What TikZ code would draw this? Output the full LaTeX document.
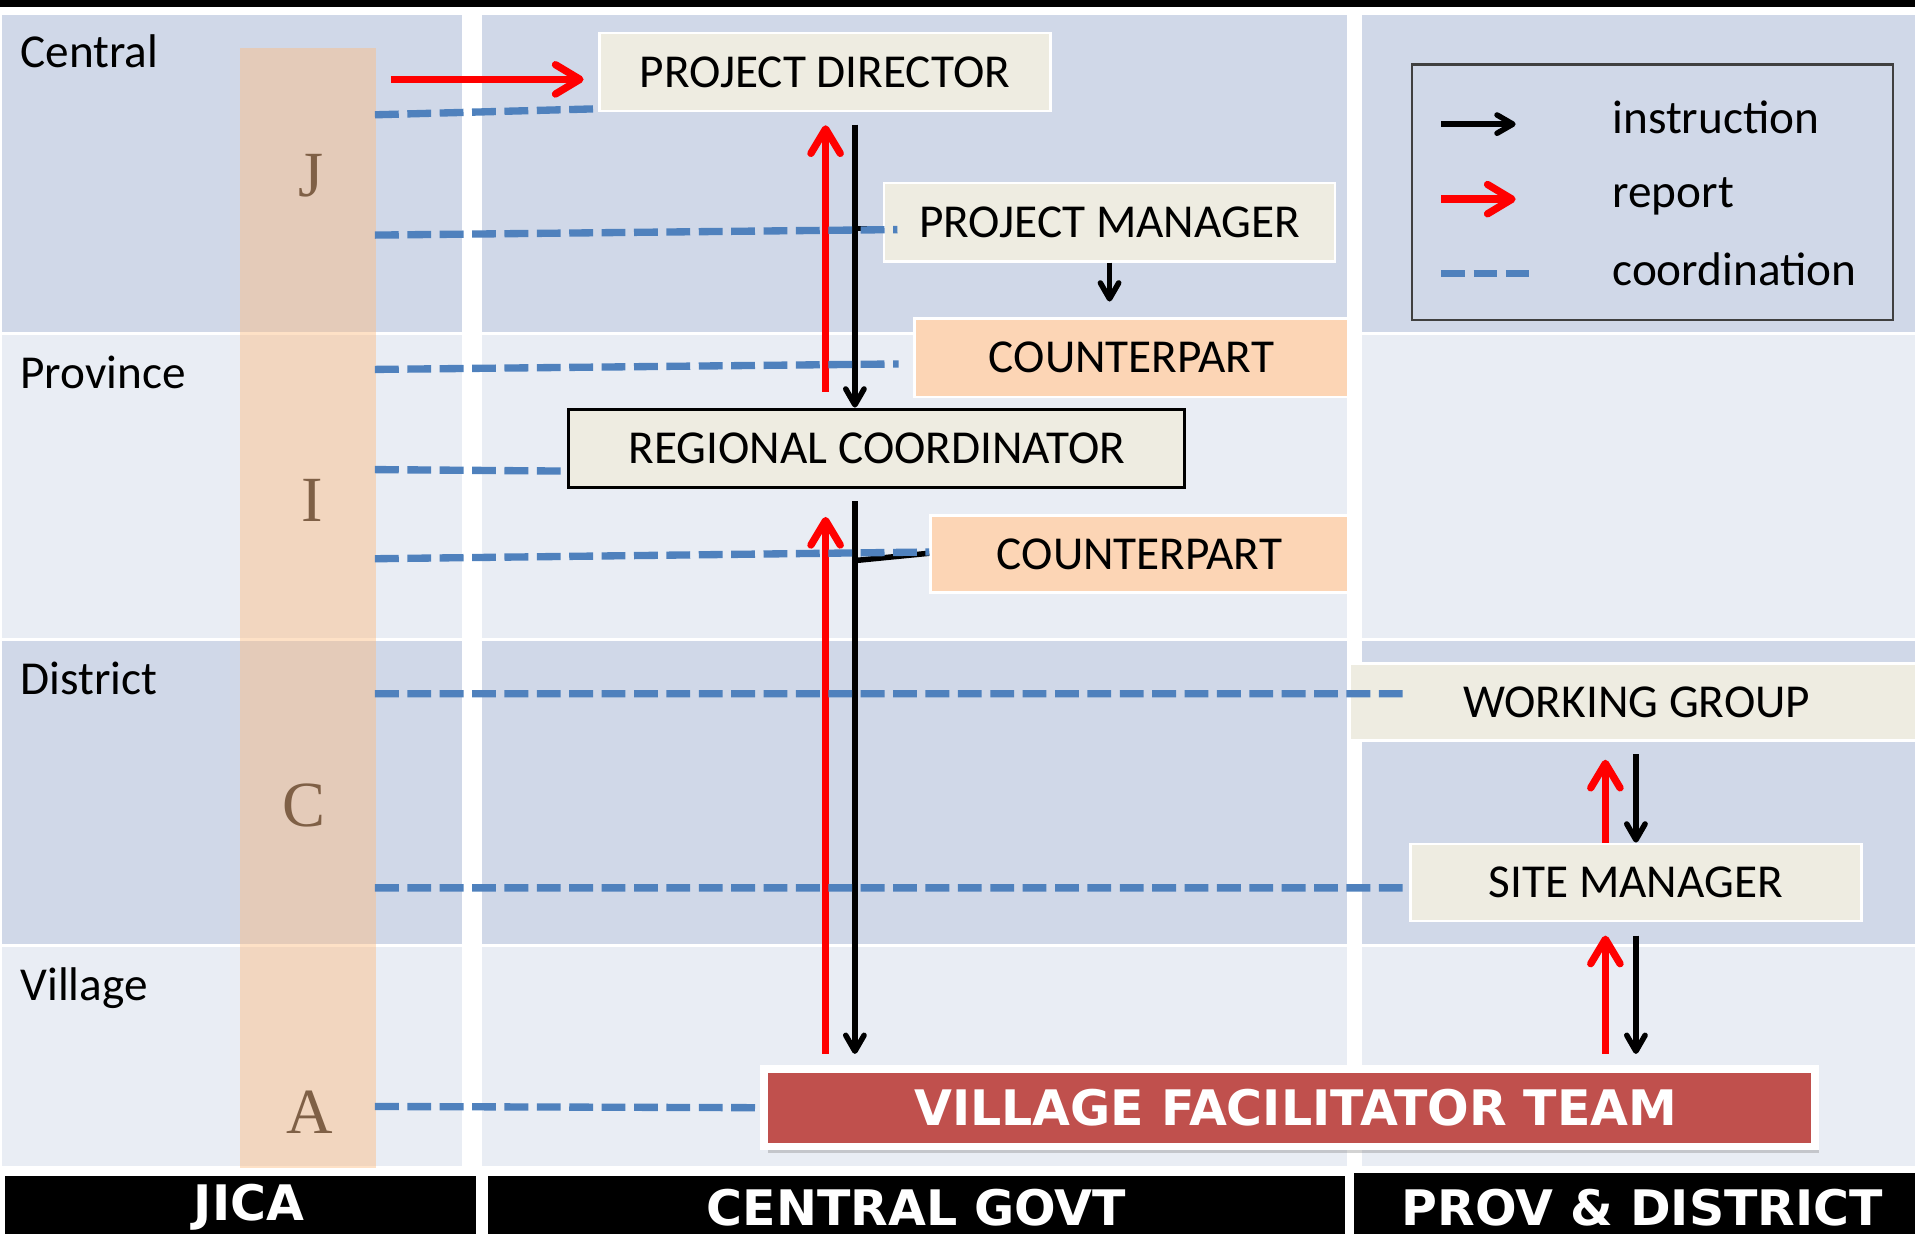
\documentclass[tikz,border=0pt]{standalone}
\usepackage{fontspec}
\setmainfont{Carlito}
\newfontfamily\heavyfont{DejaVu Sans}
\newfontfamily\letterfont{Liberation Serif}
\usepackage{tikz}
\usetikzlibrary{arrows.meta, shadows}

\definecolor{banddark}{RGB}{208,216,232}
\definecolor{bandlight}{RGB}{233,237,244}
\definecolor{boxbeige}{RGB}{238,236,225}
\definecolor{boxpeach}{RGB}{252,213,181}
\definecolor{coordblue}{RGB}{79,129,189}
\definecolor{teamred}{RGB}{192,80,77}
\definecolor{jicatint}{RGB}{253,188,128}
\definecolor{letterbrown}{RGB}{127,96,70}
\definecolor{legendgray}{RGB}{64,64,64}

\begin{document}
\begin{tikzpicture}
	[
	   x = 0.01cm, y = -0.01cm,
	   every node/.style = {font = \fontsize{11}{13}\selectfont},
	   rowlabel/.style = {anchor = base west, inner sep = 0pt},
	   letter/.style = {anchor = base, inner sep = 0pt, text = letterbrown, font = \letterfont\fontsize{15}{17}\selectfont},
	   officebox/.style = {fill = boxbeige, draw = white, line width = 0.6pt, minimum width = #1, minimum height = 0.64cm, inner sep = 0pt},
	   cpbox/.style = {officebox = #1, fill = boxpeach},
	   bottombar/.style = {fill = black, text = white, anchor = north west, inner sep = 0pt, minimum width = #1, minimum height = 0.52cm, font = \heavyfont\bfseries\fontsize{11.4}{13}\selectfont},
	   instrarrow/.style = {draw = black, line width = 0.045cm, -{Straight Barb[length = 0.13cm, width = 0.15cm, round]}},
	   reportarrow/.style = {draw = red, line width = 0.06cm, -{Straight Barb[length = 0.2cm, width = 0.24cm, round]}},
	   coordline/.style = {draw = coordblue, line width = 0.06cm, dash pattern = on 0.195cm off 0.07cm},
	   tickline/.style = {draw = black, line width = 0.045cm},
	]
	\useasboundingbox (0,0) rectangle (1568,1010);
	\clip (0,0) rectangle (1568,1010);

	\fill[black] (0,0) rectangle (1568,6);
	\foreach \top/\bot/\col in {12/272/banddark, 274.5/522.5/bandlight, 525/773/banddark, 775.5/955/bandlight}
		\foreach \lft/\rgt in {1.5/378, 395/1103, 1115/1568}
			\fill[\col] (\lft,\top) rectangle (\rgt,\bot);

	\node[fill = jicatint, fill opacity = 0.45, anchor = north west, inner sep = 0pt, minimum width = 1.11cm, minimum height = 9.16cm] (jcol) at (196,39) {};

	\node[rowlabel] (central) at (16,55) {Central};
	\node[rowlabel] (province) at (16,318) {Province};
	\node[rowlabel] (district) at (16,569) {District};
	\node[rowlabel] (village) at (16,819) {Village};

	\node[letter] (letj) at (255,161) {J};
	\node[letter] (leti) at (256,427) {I};
	\node[letter] (letc) at (249,677) {C};
	\node[letter] (leta) at (254,928) {A};

	\node[draw = legendgray, line width = 0.5pt, anchor = north west, inner sep = 0pt, minimum width = 3.94cm, minimum height = 2.09cm] (legend) at (1155,52) {};
	\draw[instrarrow] ([xshift = 0.25cm, yshift = -0.496cm]legend.north west) -- +(61,0);
	\draw[reportarrow] ([xshift = 0.25cm, yshift = -1.11cm]legend.north west) -- +(61,0);
	\draw[coordline] ([xshift = 0.25cm, yshift = -1.72cm]legend.north west) -- +(72,0);
	\node[rowlabel] (legins) at ([xshift = 1.645cm, yshift = -0.57cm]legend.north west) {instruction};
	\node[rowlabel] (legrep) at ([xshift = 1.645cm, yshift = -1.18cm]legend.north west) {report};
	\node[rowlabel] (legcoord) at ([xshift = 1.645cm, yshift = -1.82cm]legend.north west) {coordination};

	\node[officebox = 3.69cm] (PD) at (675.5,59) {PROJECT DIRECTOR};
	\node[officebox = 3.69cm] (PM) at (908.5,182) {PROJECT MANAGER};
	\node[cpbox = 3.55cm] (CP1) at (926.5,293) {COUNTERPART};
	\node[officebox = 5.04cm, draw = black, line width = 0.7pt] (RC) at (718,367) {REGIONAL COORDINATOR};
	\node[cpbox = 3.42cm, minimum height = 0.63cm] (CP2) at (933,453.5) {COUNTERPART};
	\node[officebox = 4.7cm, minimum height = 0.63cm] (WG) at (1340,575) {WORKING GROUP};
	\node[officebox = 3.69cm, minimum height = 0.63cm] (SM) at (1339.5,722.5) {SITE MANAGER};
	\node[fill = teamred, draw = white, line width = 0.065cm, minimum width = 8.6cm, minimum height = 0.635cm, inner sep = 0pt, text = white,
	      font = \heavyfont\bfseries\fontsize{11.4}{13}\selectfont,
	      drop shadow = {shadow xshift = 0.03cm, shadow yshift = -0.05cm, opacity = 0.35}] (team) at (1056,907) {\hspace*{0.1cm}VILLAGE FACILITATOR TEAM};

	\node[bottombar = 3.86cm] (jicabar) at (3,962) {\hspace*{0.14cm}JICA};
	\node[bottombar = 7.01cm] (govbar) at (399,962) {CENTRAL GOVT};
	\node[bottombar = 4.72cm, minimum height = 0.56cm] (provbar) at (1108,960) {PROV \& DISTRICT};

	\coordinate (upx) at (676,0);
	\coordinate (dnx) at (700,0);
	\coordinate (rupx) at (1314.5,0);
	\coordinate (rdnx) at (1339.5,0);
	\coordinate (pmtick) at ([yshift = -0.05cm]PM.west);
	\coordinate (cptick) at ([yshift = -0.055cm]CP2.west);

	\draw[tickline] (pmtick) -- (pmtick -| dnx);
	\draw[tickline] ([yshift = 0.005cm]CP2.west) -- (cptick -| dnx);

	\draw[reportarrow, shorten <= 0.13cm, shorten >= 0.105cm] (RC.north -| upx) -- (PD.south -| upx);
	\draw[instrarrow, shorten <= 0.1cm] (PD.south -| dnx) -- (RC.north -| dnx);
	\draw[instrarrow, shorten >= 0.13cm] (PM.south) -- (CP1.north -| PM.south);
	\draw[reportarrow, shorten <= 0.09cm, shorten >= 0.23cm] (team.north -| upx) -- (RC.south -| upx);
	\draw[instrarrow, shorten <= 0.1cm, shorten >= 0.09cm] (RC.south -| dnx) -- (team.north -| dnx);
	\draw[reportarrow, shorten >= 0.145cm] (SM.north -| rupx) -- (WG.south -| rupx);
	\draw[instrarrow, shorten <= 0.1cm] (WG.south -| rdnx) -- (SM.north -| rdnx);
	\draw[reportarrow, shorten <= 0.09cm, shorten >= 0.11cm] (team.north -| rupx) -- (SM.south -| rupx);
	\draw[instrarrow, shorten <= 0.11cm, shorten >= 0.09cm] (SM.south -| rdnx) -- (team.north -| rdnx);

	\coordinate (jpd) at (320,65);
	\draw[reportarrow, shorten >= 0.12cm] (jpd) -- (jpd -| PD.west);

	\coordinate (jd1) at (307,94);
	\coordinate (jd2) at (307,192.5);
	\coordinate (jd3) at (307,302.5);
	\coordinate (jd4) at (307,384.5);
	\coordinate (jd5) at (307,457.5);
	\coordinate (jd6) at (307,568);
	\coordinate (jd7) at (307,727);
	\coordinate (jd8) at (307,906);
	\draw[coordline] (jd1) -- ([yshift = 0.03cm]PD.south west);
	\draw[coordline] (jd2) -- ([xshift = 0.12cm, yshift = -0.06cm]PM.west);
	\draw[coordline] (jd3) -- ([xshift = -0.12cm, yshift = -0.05cm]CP1.west);
	\draw[coordline] (jd4) -- ([yshift = 0.145cm]RC.south west);
	\draw[coordline] (jd5) -- ([yshift = 0.015cm]CP2.west);
	\draw[coordline] (jd6) -- ([xshift = 0.5cm, yshift = 0.07cm]WG.west);
	\draw[coordline] (jd7) -- ([yshift = -0.045cm]SM.west);
	\draw[coordline] (jd8) -- (team.west);
\end{tikzpicture}
\end{document}
